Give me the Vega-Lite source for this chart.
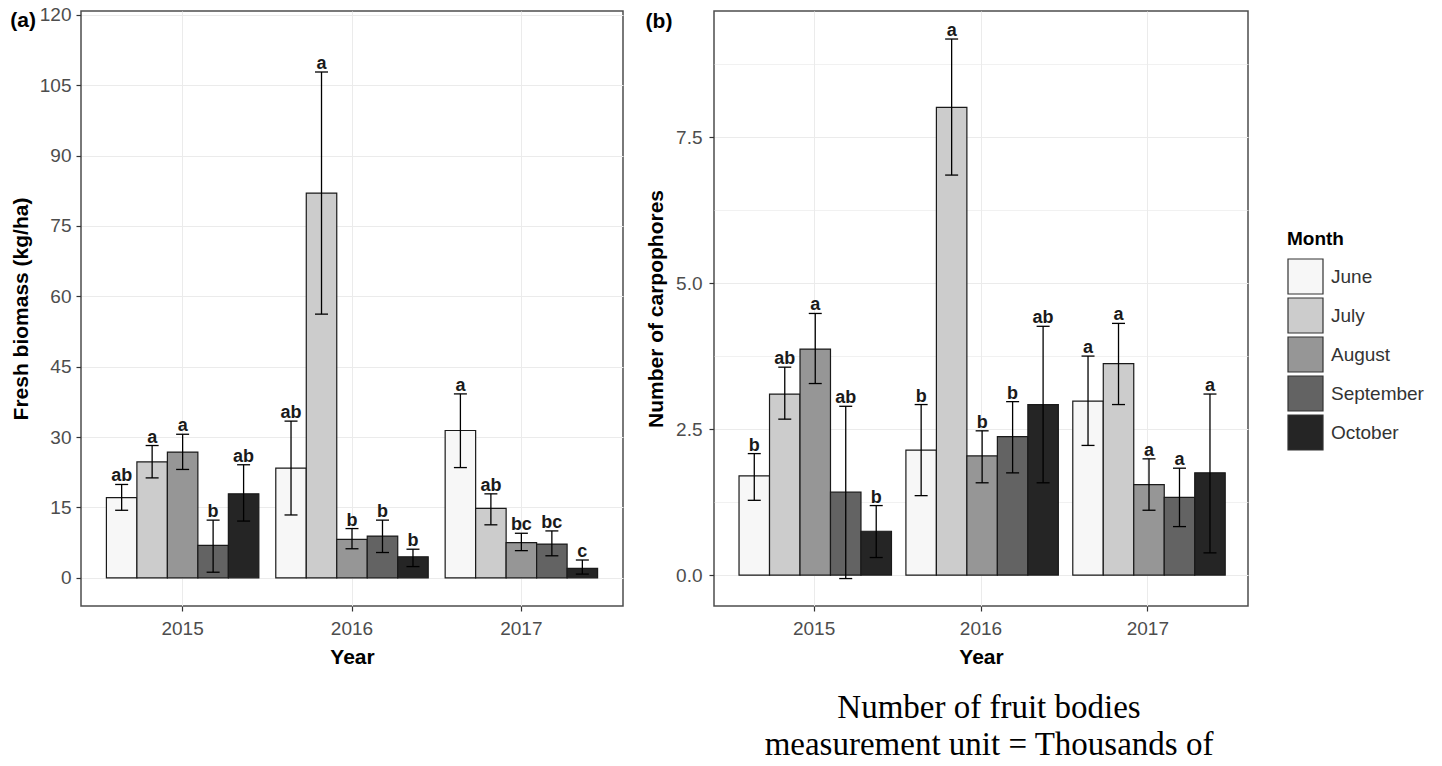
{
  "$schema": "https://vega.github.io/schema/vega-lite/v6.json",
  "padding": {"top": 5, "left": 9, "right": 5, "bottom": 0},
  "background": "white",
  "datasets": {
    "biomass": [
      {"Year": "2015", "Month": "June", "mean": 17.1, "lower": 14.4, "upper": 19.9, "letter": "ab"},
      {"Year": "2015", "Month": "July", "mean": 24.7, "lower": 21.3, "upper": 28.2, "letter": "a"},
      {"Year": "2015", "Month": "August", "mean": 26.8, "lower": 23.1, "upper": 30.6, "letter": "a"},
      {"Year": "2015", "Month": "September", "mean": 6.9, "lower": 1.2, "upper": 12.3, "letter": "b"},
      {"Year": "2015", "Month": "October", "mean": 17.9, "lower": 12.1, "upper": 24.1, "letter": "ab"},
      {"Year": "2016", "Month": "June", "mean": 23.4, "lower": 13.4, "upper": 33.4, "letter": "ab"},
      {"Year": "2016", "Month": "July", "mean": 82.0, "lower": 56.2, "upper": 107.8, "letter": "a"},
      {"Year": "2016", "Month": "August", "mean": 8.2, "lower": 6.2, "upper": 10.5, "letter": "b"},
      {"Year": "2016", "Month": "September", "mean": 8.9, "lower": 5.4, "upper": 12.3, "letter": "b"},
      {"Year": "2016", "Month": "October", "mean": 4.5, "lower": 2.4, "upper": 6.1, "letter": "b"},
      {"Year": "2017", "Month": "June", "mean": 31.4, "lower": 23.5, "upper": 39.2, "letter": "a"},
      {"Year": "2017", "Month": "July", "mean": 14.8, "lower": 11.3, "upper": 17.9, "letter": "ab"},
      {"Year": "2017", "Month": "August", "mean": 7.5, "lower": 5.8, "upper": 9.5, "letter": "bc"},
      {"Year": "2017", "Month": "September", "mean": 7.2, "lower": 4.7, "upper": 10.0, "letter": "bc"},
      {"Year": "2017", "Month": "October", "mean": 2.0, "lower": 0.8, "upper": 3.8, "letter": "c"}
    ],
    "carpophores": [
      {"Year": "2015", "Month": "June", "mean": 1.70, "lower": 1.28, "upper": 2.08, "letter": "b"},
      {"Year": "2015", "Month": "July", "mean": 3.10, "lower": 2.67, "upper": 3.56, "letter": "ab"},
      {"Year": "2015", "Month": "August", "mean": 3.87, "lower": 3.28, "upper": 4.48, "letter": "a"},
      {"Year": "2015", "Month": "September", "mean": 1.42, "lower": -0.06, "upper": 2.89, "letter": "ab"},
      {"Year": "2015", "Month": "October", "mean": 0.75, "lower": 0.30, "upper": 1.19, "letter": "b"},
      {"Year": "2016", "Month": "June", "mean": 2.14, "lower": 1.36, "upper": 2.92, "letter": "b"},
      {"Year": "2016", "Month": "July", "mean": 8.01, "lower": 6.85, "upper": 9.18, "letter": "a"},
      {"Year": "2016", "Month": "August", "mean": 2.04, "lower": 1.58, "upper": 2.47, "letter": "b"},
      {"Year": "2016", "Month": "September", "mean": 2.37, "lower": 1.75, "upper": 2.97, "letter": "b"},
      {"Year": "2016", "Month": "October", "mean": 2.92, "lower": 1.58, "upper": 4.26, "letter": "ab"},
      {"Year": "2017", "Month": "June", "mean": 2.98, "lower": 2.22, "upper": 3.75, "letter": "a"},
      {"Year": "2017", "Month": "July", "mean": 3.62, "lower": 2.92, "upper": 4.31, "letter": "a"},
      {"Year": "2017", "Month": "August", "mean": 1.55, "lower": 1.11, "upper": 1.99, "letter": "a"},
      {"Year": "2017", "Month": "September", "mean": 1.33, "lower": 0.83, "upper": 1.83, "letter": "a"},
      {"Year": "2017", "Month": "October", "mean": 1.75, "lower": 0.38, "upper": 3.10, "letter": "a"}
    ]
  },
  "config": {
    "font": "Liberation Sans",
    "view": {"stroke": "#4D4D4D", "strokeWidth": 1.5},
    "axis": {
      "domain": false,
      "labelFont": "Liberation Sans",
      "labelFontSize": 19,
      "labelColor": "#4D4D4D",
      "tickColor": "#333333",
      "tickSize": 5,
      "tickWidth": 1.2,
      "titleFont": "Liberation Sans",
      "titleFontSize": 21,
      "titleFontWeight": "bold",
      "titleColor": "#000000",
      "gridColor": "#EBEBEB",
      "gridWidth": 1
    },
    "title": {"font": "Liberation Sans", "color": "#000000"},
    "legend": {
      "orient": "none",
      "legendX": 1206,
      "legendY": 219,
      "titleFont": "Liberation Sans",
      "titleFontSize": 19,
      "titleFontWeight": "bold",
      "titleColor": "#000000",
      "titlePadding": 9,
      "labelFont": "Liberation Sans",
      "labelFontSize": 19,
      "labelColor": "#333333",
      "labelOffset": 7,
      "symbolType": "square",
      "symbolSize": 1225,
      "symbolStrokeColor": "#333333",
      "symbolStrokeWidth": 1.2,
      "symbolOpacity": 1,
      "rowPadding": -4
    }
  },
  "title": {
    "text": ["Number of fruit bodies", "measurement unit = Thousands of"],
    "orient": "bottom",
    "anchor": "start",
    "frame": "group",
    "align": "center",
    "dx": 908,
    "offset": 24,
    "baseline": "top",
    "font": "Liberation Serif",
    "fontSize": 33,
    "fontWeight": "normal",
    "lineHeight": 37,
    "color": "#000000"
  },
  "bounds": "flush",
  "spacing": 91,
  "hconcat": [
    {
      "width": 542,
      "height": 595,
      "data": {"name": "biomass"},
      "title": {"text": "(a)", "orient": "top", "anchor": "start", "frame": "bounds", "offset": -42, "baseline": "alphabetic", "fontSize": 21, "fontWeight": "bold"},
      "encoding": {
        "x": {
          "field": "Year", "type": "nominal",
          "scale": {"paddingInner": 0.1, "paddingOuter": 0.15},
          "axis": {"title": "Year", "labelAngle": 0, "labelPadding": 8, "titlePadding": 8, "bandPosition": 0.5, "grid": true}
        },
        "xOffset": {
          "field": "Month", "type": "nominal",
          "sort": ["June", "July", "August", "September", "October"],
          "scale": {"paddingInner": 0, "paddingOuter": 0}
        }
      },
      "layer": [
        {
          "mark": {"type": "bar", "stroke": "#1A1A1A", "strokeWidth": 1.2},
          "encoding": {
            "y": {
              "field": "mean", "type": "quantitative",
              "scale": {"domain": [-6.0, 120.8], "nice": false, "zero": false},
              "axis": {
                "title": "Fresh biomass (kg/ha)",
                "values": [0, 7.5, 15, 22.5, 30, 37.5, 45, 52.5, 60, 67.5, 75, 82.5, 90, 97.5, 105, 112.5, 120],
                "format": ".0f",
                "labelExpr": "datum.value % 15 === 0 ? datum.label : ''",
                "tickOpacity": {"condition": {"test": "datum.value % 15 !== 0", "value": 0}, "value": 1},
                "gridWidth": {"condition": {"test": "datum.value % 15 !== 0", "value": 0.7}, "value": 1},
                "labelPadding": 5,
                "titlePadding": 8
              }
            },
            "y2": {"datum": 0},
            "color": {
              "field": "Month", "type": "nominal",
              "scale": {"domain": ["June", "July", "August", "September", "October"], "range": ["#F7F7F7", "#CCCCCC", "#969696", "#636363", "#252525"]},
              "legend": {"title": "Month"}
            }
          }
        },
        {
          "mark": {"type": "rule", "color": "#000000", "strokeWidth": 1.3},
          "encoding": {
            "y": {"field": "lower", "type": "quantitative"},
            "y2": {"field": "upper"}
          }
        },
        {
          "mark": {"type": "tick", "color": "#000000", "size": 13, "thickness": 1.3, "opacity": 1},
          "encoding": {"y": {"field": "upper", "type": "quantitative"}}
        },
        {
          "mark": {"type": "tick", "color": "#000000", "size": 13, "thickness": 1.3, "opacity": 1},
          "encoding": {"y": {"field": "lower", "type": "quantitative"}}
        },
        {
          "mark": {"type": "text", "baseline": "alphabetic", "dy": -3, "fontSize": 18, "fontWeight": "bold", "color": "#1A1A1A"},
          "encoding": {
            "y": {"field": "upper", "type": "quantitative"},
            "text": {"field": "letter", "type": "nominal"}
          }
        }
      ]
    },
    {
      "width": 534,
      "height": 595,
      "data": {"name": "carpophores"},
      "title": {"text": "(b)", "orient": "top", "anchor": "start", "frame": "bounds", "offset": -38, "baseline": "alphabetic", "fontSize": 21, "fontWeight": "bold"},
      "encoding": {
        "x": {
          "field": "Year", "type": "nominal",
          "scale": {"paddingInner": 0.1, "paddingOuter": 0.15},
          "axis": {"title": "Year", "labelAngle": 0, "labelPadding": 8, "titlePadding": 8, "bandPosition": 0.5, "grid": true}
        },
        "xOffset": {
          "field": "Month", "type": "nominal",
          "sort": ["June", "July", "August", "September", "October"],
          "scale": {"paddingInner": 0, "paddingOuter": 0}
        }
      },
      "layer": [
        {
          "mark": {"type": "bar", "stroke": "#1A1A1A", "strokeWidth": 1.2},
          "encoding": {
            "y": {
              "field": "mean", "type": "quantitative",
              "scale": {"domain": [-0.53, 9.66], "nice": false, "zero": false},
              "axis": {
                "title": "Number of carpophores",
                "values": [0, 1.25, 2.5, 3.75, 5, 6.25, 7.5, 8.75],
                "format": ".1f",
                "labelExpr": "datum.value % 2.5 === 0 ? datum.label : ''",
                "tickOpacity": {"condition": {"test": "datum.value % 2.5 !== 0", "value": 0}, "value": 1},
                "gridWidth": {"condition": {"test": "datum.value % 2.5 !== 0", "value": 0.7}, "value": 1},
                "labelPadding": 7,
                "titlePadding": 9
              }
            },
            "y2": {"datum": 0},
            "color": {
              "field": "Month", "type": "nominal",
              "scale": {"domain": ["June", "July", "August", "September", "October"], "range": ["#F7F7F7", "#CCCCCC", "#969696", "#636363", "#252525"]},
              "legend": {"title": "Month"}
            }
          }
        },
        {
          "mark": {"type": "rule", "color": "#000000", "strokeWidth": 1.3},
          "encoding": {
            "y": {"field": "lower", "type": "quantitative"},
            "y2": {"field": "upper"}
          }
        },
        {
          "mark": {"type": "tick", "color": "#000000", "size": 13, "thickness": 1.3, "opacity": 1},
          "encoding": {"y": {"field": "upper", "type": "quantitative"}}
        },
        {
          "mark": {"type": "tick", "color": "#000000", "size": 13, "thickness": 1.3, "opacity": 1},
          "encoding": {"y": {"field": "lower", "type": "quantitative"}}
        },
        {
          "mark": {"type": "text", "baseline": "alphabetic", "dy": -3, "fontSize": 18, "fontWeight": "bold", "color": "#1A1A1A"},
          "encoding": {
            "y": {"field": "upper", "type": "quantitative"},
            "text": {"field": "letter", "type": "nominal"}
          }
        }
      ]
    }
  ]
}
